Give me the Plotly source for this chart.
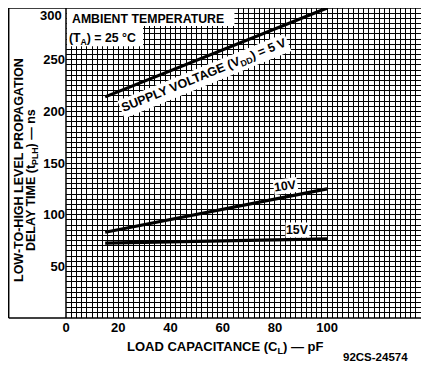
import plotly.graph_objects as go

# --- data ---
cap_pf = [15, 100]                 # load capacitance C_L (pF)
delay_5v = [214, 300]              # tPLH at VDD = 5 V (ns)
delay_10v = [83, 125]              # tPLH at VDD = 10 V (ns)
delay_15v = [72.5, 76.5]           # tPLH at VDD = 15 V (ns)

x_ticks = [0, 20, 40, 60, 80, 100]
y_ticks = [50, 100, 150, 200, 250, 300]

XMAX = 139
FONT = "Liberation Sans"

# grid every 2 pF / 5 ns, labels only on the major values
xgrid = list(range(0, XMAX + 1, 2))
ygrid = list(range(0, 301, 5))
xtext = ["<b>%d</b>" % v if v in x_ticks else "" for v in xgrid]
# top label sits at the page edge, it is drawn as an annotation below
ytext = ["<b>%d</b>" % v if v in y_ticks and v != 300 else "" for v in ygrid]

fig = go.Figure()
for ys in (delay_5v, delay_10v, delay_15v):
    fig.add_trace(go.Scatter(x=cap_pf, y=ys, mode="lines",
                             line=dict(color="black", width=3.2),
                             showlegend=False, hoverinfo="skip"))

# page has an 8px body margin; positions below are in screen pixels
# plot area on screen: x 66..429, y 8..318
def px_x(p):
    return (p - 66) / 363

def px_y(p):
    return (318 - p) / 310

LEFT = px_x(8.7)
shapes = [
    # white boxes behind the temperature note
    dict(type="rect", xref="x", yref="y", x0=0.3, x1=64.5, y0=282.5, y1=300,
         fillcolor="white", line=dict(width=0), layer="above"),
    dict(type="rect", xref="x", yref="y", x0=0.3, x1=29.5, y0=263, y1=283,
         fillcolor="white", line=dict(width=0), layer="above"),
    # outer frame
    dict(type="line", xref="paper", yref="paper", x0=LEFT, x1=1, y0=1, y1=1,
         line=dict(color="black", width=1.5)),
    dict(type="line", xref="paper", yref="paper", x0=LEFT, x1=1, y0=0, y1=0,
         line=dict(color="black", width=1.5)),
    dict(type="line", xref="paper", yref="paper", x0=LEFT, x1=LEFT, y0=0, y1=1,
         line=dict(color="black", width=1.5)),
    dict(type="line", xref="paper", yref="paper", x0=0, x1=0, y0=0, y1=1,
         line=dict(color="black", width=1.5)),
]

ann_font = dict(family=FONT, size=12.3, color="black")
title_font = dict(family=FONT, size=12.5, color="black")
annotations = [
    dict(text="<b>AMBIENT TEMPERATURE</b>", x=1.5, y=298, xref="x", yref="y",
         xanchor="left", yanchor="top", showarrow=False, font=ann_font),
    dict(text="<b>(T<sub>A</sub>) = 25 °C</b>", x=0.5, y=280, xref="x", yref="y",
         xanchor="left", yanchor="top", showarrow=False, font=ann_font),
    dict(text="<b>SUPPLY VOLTAGE (V<sub>DD</sub>) = 5 V</b>", x=53, y=234, xref="x", yref="y",
         textangle=-22, showarrow=False, font=dict(family=FONT, size=12.5, color="black"),
         bgcolor="white", borderpad=1),
    dict(text="<b>10V</b>", x=84, y=128, xref="x", yref="y", textangle=-8,
         showarrow=False, font=ann_font, bgcolor="white", borderpad=0),
    dict(text="<b>15V</b>", x=88.5, y=85, xref="x", yref="y",
         showarrow=False, font=ann_font, bgcolor="white", borderpad=0),
    dict(text="<b>%d</b>" % y_ticks[-1], x=px_x(64), y=px_y(15), xref="paper", yref="paper",
         xanchor="right", yanchor="middle", showarrow=False,
         font=dict(family=FONT, size=13, color="black")),
    # y title, two rotated lines set close together
    dict(text="<b>LOW-TO-HIGH LEVEL PROPAGATION</b>",
         x=px_x(19), y=px_y(170), xref="paper", yref="paper", textangle=-90,
         xanchor="center", yanchor="middle", showarrow=False, font=title_font),
    dict(text="<b>DELAY TIME (t<sub>PLH</sub>) — ns</b>",
         x=px_x(32), y=px_y(180), xref="paper", yref="paper", textangle=-90,
         xanchor="center", yanchor="middle", showarrow=False, font=title_font),
    dict(text="<b>LOAD CAPACITANCE (C<sub>L</sub>) — pF</b>", x=px_x(225), y=px_y(347),
         xref="paper", yref="paper", xanchor="center", yanchor="middle", showarrow=False,
         font=dict(family=FONT, size=13, color="black")),
    dict(text="<b>92CS-24574</b>", x=px_x(375), y=px_y(357), xref="paper", yref="paper",
         xanchor="center", yanchor="middle",
         showarrow=False, font=dict(family=FONT, size=11.5, color="black")),
]

fig.update_layout(
    width=421, height=357,
    margin=dict(l=58, r=0, t=0, b=47),
    paper_bgcolor="white", plot_bgcolor="white",
    xaxis=dict(range=[0, XMAX], tickmode="array", tickvals=xgrid, ticktext=xtext,
               showgrid=True, gridcolor="black", gridwidth=1, zeroline=False,
               ticks="", showline=False,
               tickfont=dict(family=FONT, size=13, color="black")),
    yaxis=dict(range=[0, 300], tickmode="array", tickvals=ygrid, ticktext=ytext,
               showgrid=True, gridcolor="black", gridwidth=1, zeroline=False,
               ticks="", showline=False, ticklabelstandoff=0,
               tickfont=dict(family=FONT, size=13, color="black")),
    shapes=shapes,
    annotations=annotations,
)

fig.write_html("out.html")
